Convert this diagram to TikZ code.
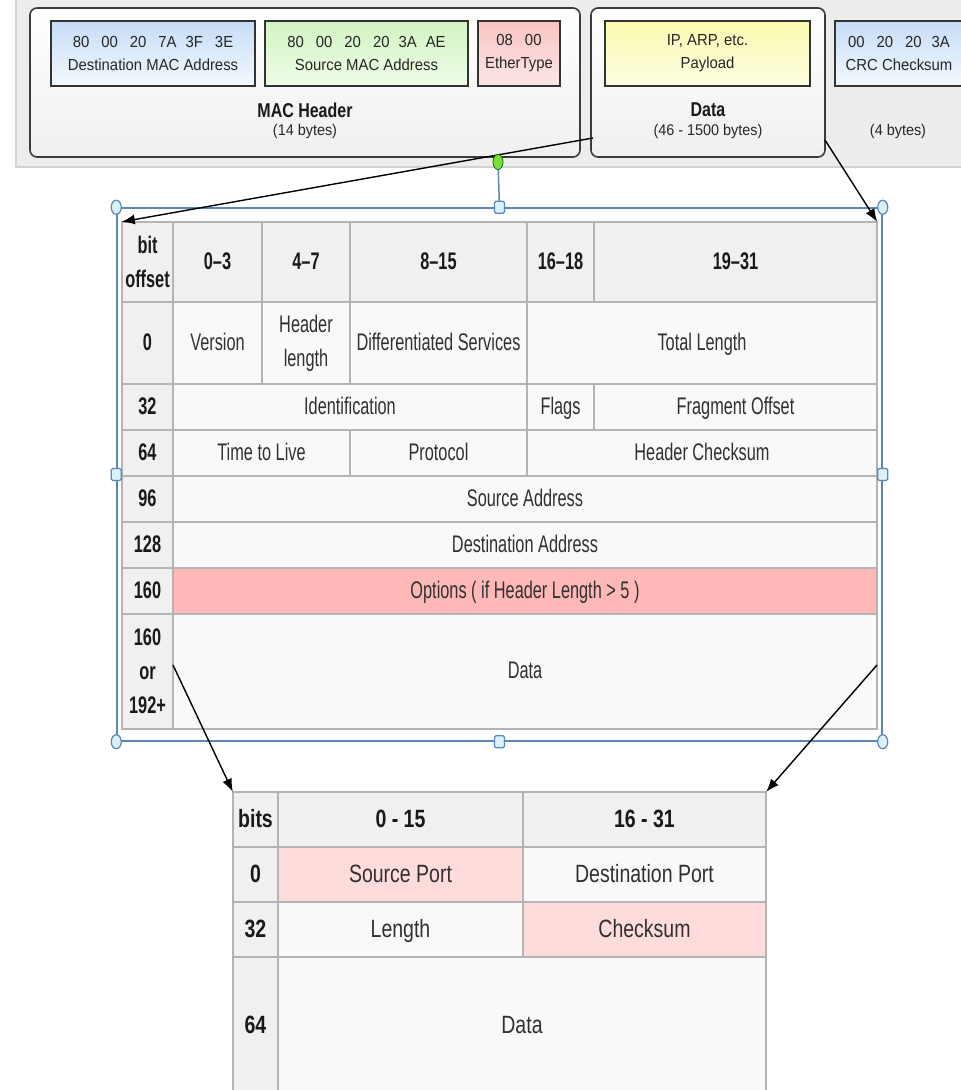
\documentclass[tikz,border=0pt]{standalone}
\usepackage{fontspec}
\setmainfont{Liberation Sans}
\newfontfamily\tabfont{Liberation Sans}[FakeStretch=0.68]
\newfontfamily\udpfont{Liberation Sans}[FakeStretch=0.78]
\newfontfamily\banfont{Liberation Sans}[FakeStretch=0.93]
\newfontfamily\banbold{Liberation Sans}[FakeStretch=0.8]
\usetikzlibrary{arrows.meta,shapes.geometric}
\definecolor{panelbg}{HTML}{EDEDED}
\definecolor{panelline}{HTML}{D2D2D2}
\definecolor{frameline}{HTML}{3C3C3C}
\definecolor{tabline}{HTML}{B4B4B4}
\definecolor{cellbg}{HTML}{F9F9F9}
\definecolor{headbg}{HTML}{F0F0F0}
\definecolor{optpink}{HTML}{FFB8B8}
\definecolor{udppink}{HTML}{FFDCDC}
\definecolor{txt}{HTML}{303030}
\definecolor{selblue}{HTML}{5A86B8}
\definecolor{handlefill}{HTML}{DAF1F8}
\definecolor{greendot}{HTML}{7CDC3A}
\definecolor{macblue}{HTML}{C6DCF6}
\definecolor{macblueb}{HTML}{F4F9FE}
\definecolor{macgreen}{HTML}{D2F4C2}
\definecolor{macgreenb}{HTML}{EFFCE8}
\definecolor{macpink}{HTML}{F9C4C4}
\definecolor{macpinkb}{HTML}{FDE6E6}
\definecolor{macyellow}{HTML}{FAFAAE}
\definecolor{macyellowb}{HTML}{FDFDE4}
\newcommand\tcell[7]{\node[#6, minimum width={(#4-#2)*1pt}, minimum height={(#5-#3)*1pt}] (#1) at ({(#2+#4)/2},{(#3+#5)/2}) {#7};}
\tikzset{
  framebox/.style={draw=frameline, line width=1.6pt, rounded corners=7pt, top color=white, bottom color=black!6, inner sep=0pt},
  fieldbox/.style={draw=black!80, line width=2pt, inner sep=0pt, align=center, text=black!85, font={\banfont\fontsize{16}{23}\selectfont}},
  bantext/.style={text=black!85, inner sep=0pt, font={\banfont\fontsize{15.5}{18}\selectfont}},
  banbold/.style={text=black!90, inner sep=0pt, font={\banbold\bfseries\fontsize{20}{22}\selectfont}},
  ipcell/.style={draw=tabline, line width=2pt, inner sep=0pt, fill=cellbg, align=center, text=txt, text height=17pt, text depth=3pt, font={\tabfont\fontsize{24}{34}\selectfont}},
  iphead/.style={ipcell, fill=headbg, text=black!90, font={\tabfont\bfseries\fontsize{24}{34}\selectfont}},
  multi/.style={text height={}, text depth={}},
  udpcell/.style={draw=tabline, line width=2pt, inner sep=0pt, fill=cellbg, align=center, text=txt, text height=18pt, text depth=3pt, font={\udpfont\fontsize{25}{30}\selectfont}},
  udphead/.style={udpcell, fill=headbg, text=black!90, font={\udpfont\bfseries\fontsize{25}{30}\selectfont}},
  selbox/.style={draw=selblue, line width=1.5pt, inner sep=0pt},
  cornerhandle/.style={ellipse, draw=selblue, line width=1.2pt, fill=handlefill, minimum width=10pt, minimum height=14pt, inner sep=0pt},
  sidehandle/.style={rectangle, rounded corners=1.5pt, draw=selblue, line width=1.2pt, fill=handlefill, minimum width=10pt, minimum height=12pt, inner sep=0pt},
  conn/.style={draw=black, line width=1.4pt, -{Latex[length=13pt,width=10pt]}},
}
\begin{document}
\begin{tikzpicture}[x=1pt,y=-1pt]
\useasboundingbox (0,0) rectangle (961,1090);
\fill[white] (0,0) rectangle (961,1090);
% ---- Ethernet frame banner ----
\fill[panelbg] (16,-5) rectangle (966,167);
\draw[panelline, line width=2.5pt] (16,-5) -- (16,167) -- (966,167);
\node[framebox, minimum width=550pt, minimum height=149pt] (macfr) at (305,82.5) {};
\node[framebox, minimum width=234pt, minimum height=149pt] (datafr) at (708,82.5) {};
\node[fieldbox, top color=macblue, bottom color=macblueb, minimum width=204pt, minimum height=65pt] (dstmac) at (153,53.5) {80\hspace{12pt}00\hspace{12pt}20\hspace{12pt}7A\hspace{9pt}3F\hspace{12pt}3E\\Destination MAC Address};
\node[fieldbox, top color=macgreen, bottom color=macgreenb, minimum width=203pt, minimum height=65pt] (srcmac) at (366.5,53.5) {80\hspace{12pt}00\hspace{12pt}20\hspace{12pt}20\hspace{9pt}3A\hspace{9pt}AE\\Source MAC Address};
\node[fieldbox, top color=macpink, bottom color=macpinkb, minimum width=82pt, minimum height=65pt] (ethtype) at (519,53.5) {08\hspace{12pt}00\\EtherType};
\node[fieldbox, top color=macyellow, bottom color=macyellowb, minimum width=205pt, minimum height=65pt] (payload) at (707.5,53.5) {IP, ARP, etc.\\Payload};
\node[fieldbox, top color=macblue, bottom color=macblueb, minimum width=128pt, minimum height=65pt] (crc) at (899,53.5) {00\hspace{12pt}20\hspace{12pt}20\hspace{10pt}3A\\CRC Checksum};
\node[banbold] (machdr) at (305,110) {MAC Header};
\node[bantext] (macsize) at (305,131) {(14 bytes)};
\node[banbold] (datahdr) at (708,110) {Data};
\node[bantext] (datasize) at (708,131) {(46 - 1500 bytes)};
\node[bantext] (crcsize) at (898,131) {(4 bytes)};
% ---- IPv4 header table ----
\node[inner sep=0pt, minimum width=755pt, minimum height=507pt] (iptable) at (499.5,475.5) {};
\tcell{h0}{122}{222}{173}{302}{iphead,multi}{bit\\offset}
\tcell{h1}{173}{222}{262}{302}{iphead}{0–3}
\tcell{h2}{262}{222}{350}{302}{iphead}{4–7}
\tcell{h3}{350}{222}{527}{302}{iphead}{8–15}
\tcell{h4}{527}{222}{594}{302}{iphead}{16–18}
\tcell{h5}{594}{222}{877}{302}{iphead}{19–31}
\tcell{r0}{122}{302}{173}{384}{iphead}{0}
\tcell{ver}{173}{302}{262}{384}{ipcell}{Version}
\tcell{ihl}{262}{302}{350}{384}{ipcell,multi}{Header\\length}
\tcell{dsv}{350}{302}{527}{384}{ipcell}{Differentiated Services}
\tcell{tlen}{527}{302}{877}{384}{ipcell}{Total Length}
\tcell{r32}{122}{384}{173}{430}{iphead}{32}
\tcell{ident}{173}{384}{527}{430}{ipcell}{Identification}
\tcell{flags}{527}{384}{594}{430}{ipcell}{Flags}
\tcell{frag}{594}{384}{877}{430}{ipcell}{Fragment Offset}
\tcell{r64}{122}{430}{173}{476}{iphead}{64}
\tcell{ttl}{173}{430}{350}{476}{ipcell}{Time to Live}
\tcell{proto}{350}{430}{527}{476}{ipcell}{Protocol}
\tcell{hcs}{527}{430}{877}{476}{ipcell}{Header Checksum}
\tcell{r96}{122}{476}{173}{522}{iphead}{96}
\tcell{srca}{173}{476}{877}{522}{ipcell}{Source Address}
\tcell{r128}{122}{522}{173}{568}{iphead}{128}
\tcell{dsta}{173}{522}{877}{568}{ipcell}{Destination Address}
\tcell{r160}{122}{568}{173}{614}{iphead}{160}
\tcell{opts}{173}{568}{877}{614}{ipcell,fill=optpink}{Options ( if Header Length > 5 )}
\tcell{r192}{122}{614}{173}{729}{iphead,multi}{160\\or\\192+}
\tcell{ipdata}{173}{614}{877}{729}{ipcell}{Data}
% ---- selection frame ----
\node[selbox, minimum width=765pt, minimum height=533pt] (sel) at (499.5,474.5) {};
\draw[selblue, line width=1.5pt] (498,162) -- (sel.north);
\node[cornerhandle] (hnw) at (sel.north west) {};
\node[cornerhandle] (hne) at (sel.north east) {};
\node[cornerhandle] (hsw) at (sel.south west) {};
\node[cornerhandle] (hse) at (sel.south east) {};
\node[sidehandle] (hn) at (sel.north) {};
\node[sidehandle] (hs) at (sel.south) {};
\node[sidehandle] (hw) at (sel.west) {};
\node[sidehandle] (he) at (sel.east) {};
% ---- UDP header table ----
\node[inner sep=0pt, minimum width=533pt, minimum height=300pt] (udptable) at (499.5,942) {};
\tcell{u0}{233}{792}{278}{847}{udphead}{bits}
\tcell{u1}{278}{792}{523}{847}{udphead}{0 - 15}
\tcell{u2}{523}{792}{766}{847}{udphead}{16 - 31}
\tcell{ur0}{233}{847}{278}{902}{udphead}{0}
\tcell{sport}{278}{847}{523}{902}{udpcell,fill=udppink}{Source Port}
\tcell{dport}{523}{847}{766}{902}{udpcell}{Destination Port}
\tcell{ur32}{233}{902}{278}{957}{udphead}{32}
\tcell{ulen}{278}{902}{523}{957}{udpcell}{Length}
\tcell{ucs}{523}{902}{766}{957}{udpcell,fill=udppink}{Checksum}
\tcell{ur64}{233}{957}{278}{1110}{udphead}{}
\tcell{udata}{278}{957}{766}{1110}{udpcell}{}
\node[udphead, draw=none, fill=none] (ur64t) at (255.5,1026) {64};
\node[udpcell, draw=none, fill=none] (udatat) at (522,1026) {Data};
% ---- connectors ----
\coordinate (dl) at (593,138);
\coordinate (dr) at (825,140);
\coordinate (il) at (173,665);
\coordinate (ir) at (877,665);
\draw[conn] (dl) -- (iptable.north west);
\draw[conn] (dr) -- (iptable.north east);
\draw[conn] (il) -- (udptable.north west);
\draw[conn] (ir) -- (udptable.north east);
\node[ellipse, draw=green!45!black, line width=0.8pt, fill=greendot, minimum width=10pt, minimum height=15pt, inner sep=0pt] (gdot) at (498,162) {};
\end{tikzpicture}
\end{document}
